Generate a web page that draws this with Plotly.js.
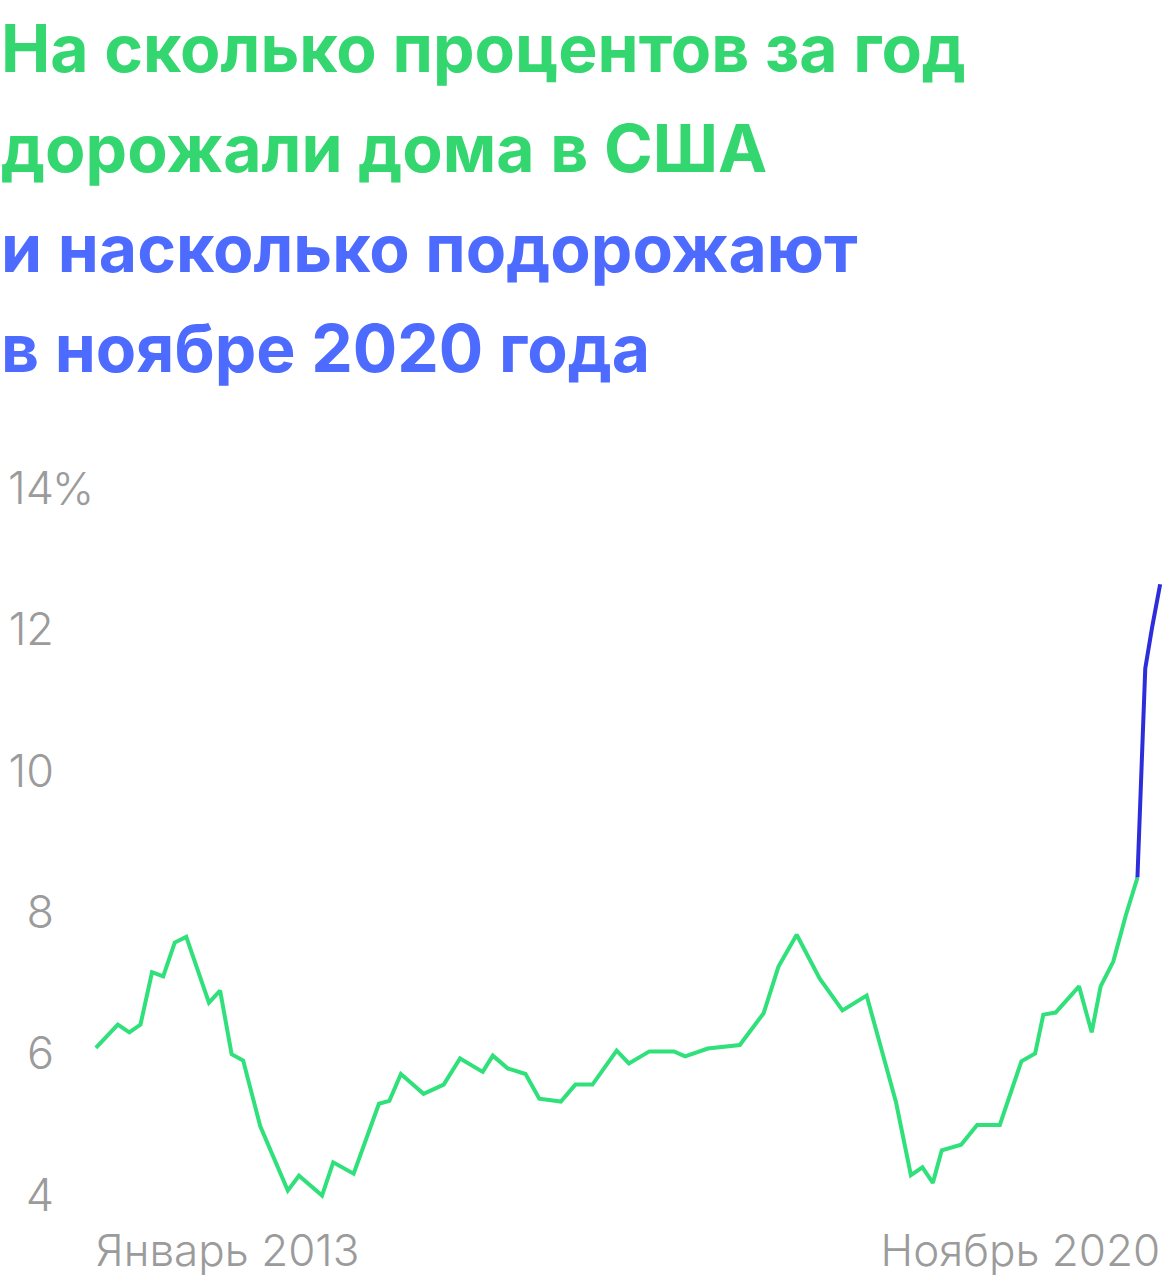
<!DOCTYPE html>
<html>
<head>
<meta charset="utf-8">
<script src="https://cdn.plot.ly/plotly-3.0.1.min.js"></script>
<style>
  html, body { margin: 0; padding: 0; background: #fff; }
  #graph { width: 1162px; height: 1280px; }
</style>
</head>
<body>
<div id="graph"></div>
<script>
// годовой рост цен на дома в США, %
var factDates = ['2013-01-01', '2013-03-01', '2013-04-01', '2013-05-01', '2013-06-01', '2013-07-01',
  '2013-08-01', '2013-09-01', '2013-11-01', '2013-12-01', '2014-01-01', '2014-02-01', '2014-03-19',
  '2014-06-01', '2014-07-01', '2014-09-01', '2014-10-01', '2014-11-25', '2015-02-01', '2015-03-01',
  '2015-04-01', '2015-06-01', '2015-07-25', '2015-09-07', '2015-11-07', '2015-12-04', '2016-01-13',
  '2016-03-01', '2016-04-07', '2016-06-04', '2016-07-13', '2016-08-28', '2016-11-01', '2016-12-04',
  '2017-01-28', '2017-04-04', '2017-05-04', '2017-07-04', '2017-09-28', '2017-12-01', '2018-01-10',
  '2018-02-28', '2018-05-01', '2018-07-01', '2018-09-04', '2018-11-22', '2019-01-01', '2019-02-01',
  '2019-03-01', '2019-03-25', '2019-05-16', '2019-06-28', '2019-08-28', '2019-10-25', '2019-12-01',
  '2019-12-23', '2020-01-25', '2020-03-28', '2020-05-01', '2020-05-25', '2020-06-28', '2020-08-01',
  '2020-09-01'];
var factValues = [6.08, 6.41, 6.30, 6.41, 7.15, 7.09,
  7.57, 7.65, 6.72, 6.89, 5.99, 5.90, 4.97,
  4.06, 4.27, 3.99, 4.46, 4.30, 5.29, 5.33,
  5.71, 5.43, 5.56, 5.93, 5.74, 5.97, 5.79,
  5.71, 5.36, 5.32, 5.56, 5.56, 6.04, 5.86,
  6.03, 6.03, 5.96, 6.07, 6.12, 6.57, 7.23,
  7.68, 7.06, 6.61, 6.82, 5.31, 4.28, 4.39,
  4.17, 4.63, 4.71, 4.99, 4.99, 5.89, 6.00,
  6.55, 6.58, 6.95, 6.30, 6.95, 7.30, 7.96,
  8.49];

// прогноз
var forecastDates = ['2020-09-01', '2020-09-22', '2020-10-10', '2020-11-01'];
var forecastValues = [8.49, 11.45, 12.02, 12.64];

var yTicks = [4, 6, 8, 10, 12, 14];
var yTickText = ['4', '6', '8', '10', '12', '14'];
var firstLabel = 'Январь 2013';
var lastLabel = 'Ноябрь 2020';

var titleLines = [
  {text: 'На сколько процентов за год', color: '#33d66f'},
  {text: 'дорожали дома в США', color: '#33d66f'},
  {text: 'и насколько подорожают', color: '#4d6bff'},
  {text: 'в ноябре 2020 года', color: '#4d6bff'}
];

var gray = '#9b9b9b';
var labelFont = 'Inter';
var plotTop = 474, plotH = 735, plotL = 94, plotW = 1068;
function py(p) { return (plotTop + plotH - p) / plotH; }
function px(p) { return (p - plotL) / plotW; }

var green = {
  x: factDates, y: factValues,
  type: 'scatter', mode: 'lines',
  line: {color: '#30e07a', width: 4, shape: 'linear'},
  hoverinfo: 'skip'
};
var blue = {
  x: forecastDates, y: forecastValues,
  xaxis: 'x2', yaxis: 'y',
  type: 'scatter', mode: 'lines',
  line: {color: '#2d2ddc', width: 4},
  hoverinfo: 'skip'
};

var annotations = titleLines.map(function (l, i) {
  return {
    text: l.text, xref: 'paper', yref: 'paper',
    x: px(-1), y: py(72 + 100 * i - 24),
    xanchor: 'left', yanchor: 'middle', showarrow: false,
    font: {family: 'Inter', size: 66, weight: 700, color: l.color}
  };
});
annotations.push({
  text: '%', xref: 'paper', yref: 'y', x: px(50), y: 14,
  xanchor: 'left', yanchor: 'middle', showarrow: false,
  font: {family: labelFont, size: 45, weight: 300, color: gray}
});

var xRange = ['2012-12-27', '2020-11-06'];

var layout = {
  width: 1162, height: 1280,
  margin: {l: plotL, r: 1162 - plotL - plotW, t: plotTop, b: 1280 - plotTop - plotH},
  paper_bgcolor: '#fff', plot_bgcolor: '#fff',
  showlegend: false,
  xaxis: {
    type: 'date', range: xRange,
    showgrid: false, zeroline: false, showline: false, ticks: '',
    tickvals: ['2013-01-01'], ticktext: [firstLabel],
    ticklabelposition: 'outside right', ticklabelstandoff: 12,
    tickfont: {family: labelFont, size: 44, weight: 300, color: gray}
  },
  xaxis2: {
    type: 'date', range: xRange, overlaying: 'x', anchor: 'y', side: 'bottom',
    showgrid: false, zeroline: false, showline: false, ticks: '',
    tickvals: ['2020-11-01'], ticktext: [lastLabel],
    ticklabelposition: 'outside left', ticklabelstandoff: 12,
    tickfont: {family: labelFont, size: 44, weight: 300, color: gray}
  },
  yaxis: {
    range: [3.8, 14.2],
    showgrid: false, zeroline: false, showline: false, ticks: '',
    tickvals: yTicks, ticktext: yTickText,
    ticklabelstandoff: 39,
    tickfont: {family: labelFont, size: 45, weight: 300, color: gray}
  },
  annotations: annotations
};

Plotly.newPlot('graph', [green, blue], layout, {displayModeBar: false, staticPlot: true});
</script>
</body>
</html>
